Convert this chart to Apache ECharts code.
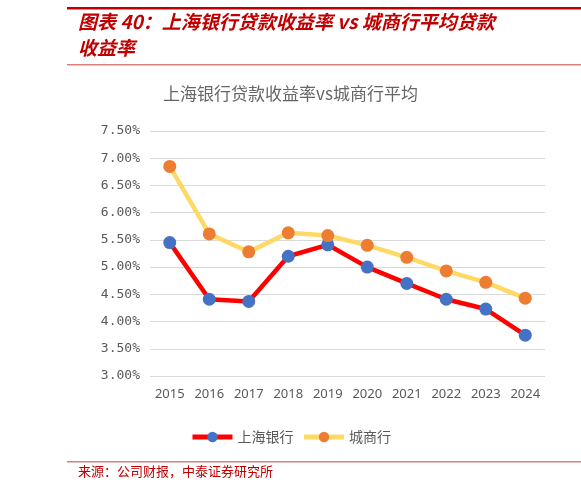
<!DOCTYPE html>
<html>
<head>
<meta charset="utf-8">
<script src="https://cdn.jsdelivr.net/npm/echarts@6/dist/echarts.min.js"></script>
<style>
html, body { margin: 0; padding: 0; background: #fff; }
#main { width: 581px; height: 490px; }
</style>
</head>
<body>
<div id="main"></div>
<script>
var years = ['2015','2016','2017','2018','2019','2020','2021','2022','2023','2024'];
var shBank = [5.45, 4.41, 4.37, 5.20, 5.41, 5.00, 4.70, 4.41, 4.23, 3.75];
var cityBanks = [6.85, 5.61, 5.28, 5.63, 5.58, 5.40, 5.18, 4.93, 4.72, 4.43];
var seriesNames = ['上海银行', '城商行'];

var chart = echarts.init(document.getElementById('main'));
var cjk = '"Noto Sans CJK SC", sans-serif';

var option = {
    animation: false,
    backgroundColor: '#fff',
    title: {
        text: '上海银行贷款收益率vs城商行平均',
        left: 'center',
        top: 80,
        textStyle: { fontFamily: cjk, fontSize: 17, fontWeight: 'normal', color: '#666' }
    },
    graphic: [
        { type: 'rect', shape: { x: 67, y: 7, width: 514, height: 2.5 }, style: { fill: '#C00000' } },
        { type: 'text', left: 78, top: 12, style: { text: '图表 40：上海银行贷款收益率 vs 城商行平均贷款', fill: '#C00000', font: 'italic bold 19px "Noto Sans CJK SC"' } },
        { type: 'text', left: 78, top: 38, style: { text: '收益率', fill: '#C00000', font: 'italic bold 19px "Noto Sans CJK SC"' } },
        { type: 'rect', shape: { x: 67, y: 64, width: 514, height: 1.5 }, style: { fill: '#D98080' } },
        { type: 'rect', shape: { x: 67, y: 461, width: 514, height: 1.5 }, style: { fill: '#D98080' } },
        { type: 'text', left: 78, top: 465, style: { text: '来源：公司财报，中泰证券研究所', fill: '#C00000', font: '13px "Noto Sans CJK SC"' } }
    ],
    legend: {
        data: seriesNames,
        top: 425,
        left: 'center',
        itemWidth: 40,
        itemHeight: 13,
        itemGap: 8,
        lineStyle: { width: 5 },
        textStyle: { fontFamily: cjk, fontSize: 14, color: '#595959' }
    },
    grid: { left: 150, right: 36, top: 131, bottom: 114, containLabel: false },
    xAxis: {
        type: 'category',
        data: years,
        axisLine: { show: false },
        axisTick: { show: false },
        axisLabel: { color: '#595959', fontSize: 13, margin: 12, interval: 0, fontFamily: 'Noto Sans' }
    },
    yAxis: {
        type: 'value',
        min: 3,
        max: 7.5,
        interval: 0.5,
        axisLine: { show: false },
        axisTick: { show: false },
        splitLine: { lineStyle: { color: '#D9D9D9', width: 1 } },
        axisLabel: {
            color: '#595959', fontSize: 13, margin: 10, fontFamily: 'DejaVu Sans Mono',
            formatter: function (v) { return v.toFixed(2) + '%'; }
        }
    },
    series: [
        {
            name: seriesNames[0],
            type: 'line',
            data: shBank,
            symbol: 'circle',
            symbolSize: 13,
            lineStyle: { color: '#FF0000', width: 4.5 },
            itemStyle: { color: '#4472C4' }
        },
        {
            name: seriesNames[1],
            type: 'line',
            data: cityBanks,
            symbol: 'circle',
            symbolSize: 13,
            lineStyle: { color: '#FFD966', width: 4.5 },
            itemStyle: { color: '#ED7D31' }
        }
    ]
};

chart.setOption(option);
</script>
</body>
</html>
